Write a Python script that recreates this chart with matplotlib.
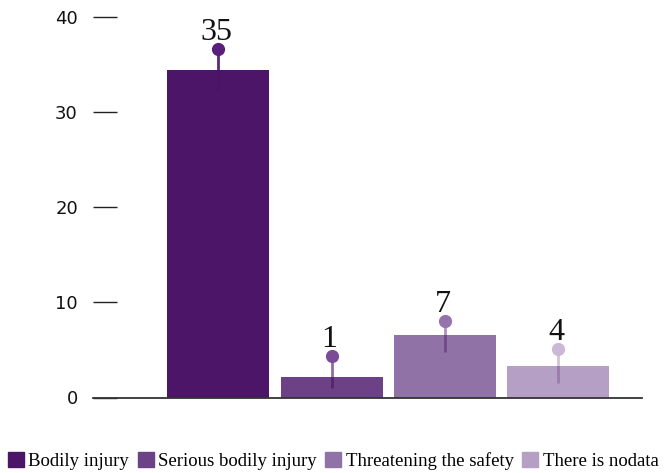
import matplotlib
matplotlib.use("Agg")
import matplotlib.pyplot as plt
from matplotlib.patches import Patch

categories = ["Bodily injury", "Serious bodily injury", "Threatening the safety", "There is nodata"]
bar_values = [34.4, 2.2, 6.6, 3.35]
err_low = [32.2, 1.05, 4.8, 1.55]
err_high = [36.6, 4.4, 8.0, 5.05]
labels = ["35", "1", "7", "4"]
bar_colors = ["#4c1568", "#6c4186", "#9172a6", "#b59fc4"]
dot_colors = ["#5a1f7a", "#7a4c97", "#9474aa", "#cab8d6"]
line_color = "#4a1466"
line_alphas = [0.9, 0.62, 0.45, 0.25]
yticks = [0, 10, 20, 30, 40]

fig = plt.figure(figsize=(6.68, 4.73), dpi=100)
ax = fig.add_axes([92.5 / 668, 1 - 397.5 / 473, (642 - 92.5) / 668, (397.5 - 17) / 473])

x = list(range(len(categories)))
ax.bar(x, bar_values, width=0.9, color=bar_colors, zorder=2)
for xi, lo, hi, c, la, lab in zip(x, err_low, err_high, dot_colors, line_alphas, labels):
    ax.plot([xi, xi], [lo, hi], color=line_color, lw=2.0, alpha=la, zorder=3, solid_capstyle="butt")
    ax.plot([xi], [hi], "o", color=c, ms=8.5, zorder=4)
    ax.annotate(lab, (xi, hi), xytext=(-1.5, 6.5), textcoords="offset points",
                ha="center", va="baseline", fontsize=23, family="Liberation Serif",
                color="#111111")

ax.set_xlim(-1.11, 3.74)
ax.set_ylim(0, 40)
ax.set_yticks(yticks)
ax.set_xticks([])
for s in ["top", "right", "left"]:
    ax.spines[s].set_visible(False)
ax.spines["bottom"].set_color("#333333")
ax.spines["bottom"].set_linewidth(1.3)
ax.tick_params(axis="y", direction="in", length=17.5, width=1.0, color="#222222",
               pad=10.5, labelsize=13, labelcolor="#111111")

handles = [Patch(color=c) for c in bar_colors]
fig.legend(handles, categories, loc="lower left", bbox_to_anchor=(0.006, -0.002), ncol=4,
           frameon=False, prop={"family": "Liberation Serif", "size": 13.5},
           handlelength=0.85, handleheight=0.85, handletextpad=0.25, columnspacing=0.45,
           borderaxespad=0.0, borderpad=0.2)

fig.savefig("out.png", dpi=100)
